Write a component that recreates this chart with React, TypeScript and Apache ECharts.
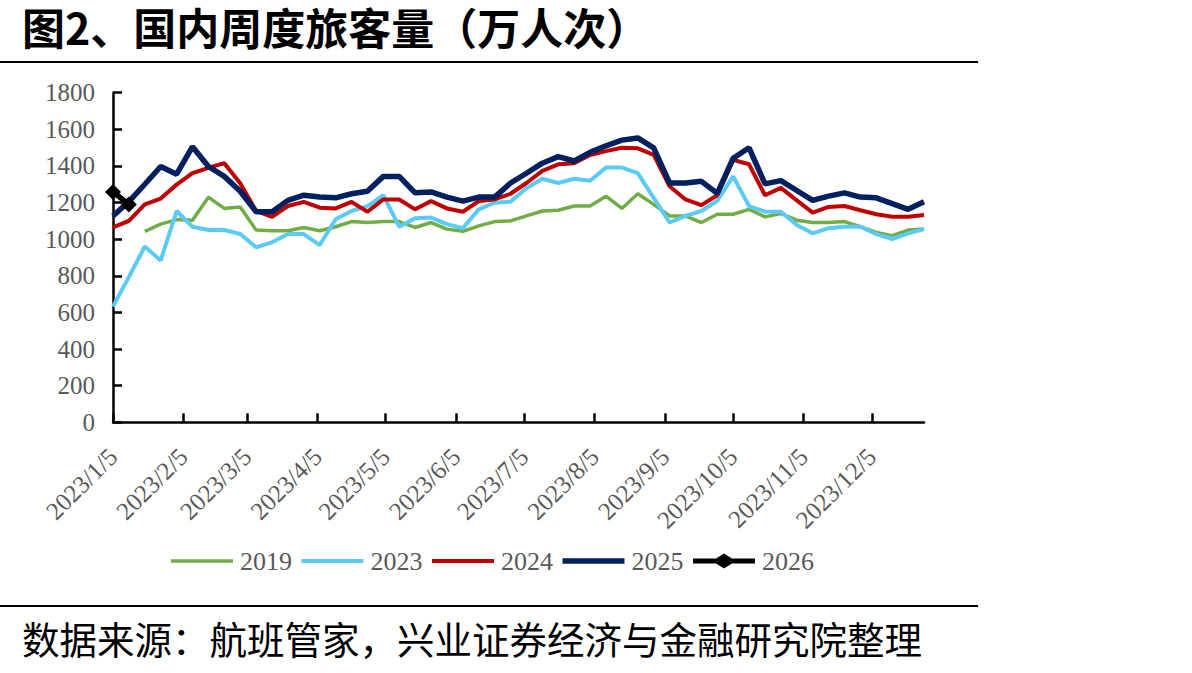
import React, { useEffect, useRef } from "react";
import * as echarts from "echarts";

// Weekly dates (x positions) — first week 2023/1/5, one point per week
const startDate = "2023/1/5";
const weekCount = 52;
// Month tick labels on the date axis
const tickLabels = [
  "2023/1/5", "2023/2/5", "2023/3/5", "2023/4/5", "2023/5/5", "2023/6/5",
  "2023/7/5", "2023/8/5", "2023/9/5", "2023/10/5", "2023/11/5", "2023/12/5",
];
const axisEnd = "2023/12/28";

const s2019: (number | null)[] = [
  null, null, 1043, 1082, 1107, 1104, 1229, 1168, 1176, 1050, 1046, 1046, 1064,
  1046, 1068, 1096, 1091, 1096, 1096, 1064, 1091, 1055, 1043, 1073, 1096, 1100,
  1127, 1154, 1158, 1181, 1181, 1235, 1168, 1248, 1190, 1127, 1127, 1091, 1136,
  1136, 1163, 1122, 1140, 1104, 1091, 1091, 1096, 1068, 1037, 1019, 1050, 1055,
];
const s2023: (number | null)[] = [
  632, 794, 960, 884, 1154, 1068, 1050, 1050, 1028, 956, 983, 1028, 1028,
  968, 1109, 1154, 1181, 1240, 1068, 1114, 1118, 1082, 1060, 1163, 1199, 1204,
  1278, 1330, 1307, 1330, 1319, 1391, 1391, 1361, 1226, 1091, 1127, 1154, 1210,
  1343, 1181, 1150, 1150, 1078, 1032, 1060, 1068, 1068, 1028, 1001, 1032, 1055,
];
const s2024: (number | null)[] = [
  1064, 1100, 1190, 1222, 1298, 1361, 1390, 1415, 1305, 1154, 1122, 1181, 1204,
  1172, 1168, 1204, 1150, 1217, 1217, 1163, 1208, 1168, 1150, 1208, 1217, 1248,
  1307, 1373, 1409, 1415, 1460, 1481, 1499, 1496, 1460, 1289, 1217, 1186, 1240,
  1433, 1409, 1240, 1280, 1212, 1145, 1176, 1181, 1158, 1136, 1122, 1122, 1132,
];
const s2025: (number | null)[] = [
  1127, 1205, 1300, 1397, 1355, 1505, 1397, 1343, 1262, 1150, 1150, 1212, 1240,
  1230, 1226, 1248, 1262, 1343, 1343, 1253, 1258, 1230, 1208, 1230, 1230, 1307,
  1360, 1415, 1451, 1427, 1474, 1510, 1541, 1553, 1499, 1307, 1307, 1316, 1250,
  1442, 1499, 1302, 1320, 1266, 1212, 1235, 1253, 1230, 1226, 1194, 1163, 1204,
];
const s2026: (number | null)[] = [1258, 1190];

const seriesNames = ["2019", "2023", "2024", "2025", "2026"];
const seriesColors = ["#70AD47", "#5BCBF5", "#C00000", "#002060", "#000000"];
const seriesWidths = [3.5, 4, 4, 5.5, 5.5];
const legendIcons = [
  "path://M0,0H62V3.5H0Z",
  "path://M0,0H62V4H0Z",
  "path://M0,0H62V4H0Z",
  "path://M0,0H62V5.5H0Z",
  "path://M0,5H23L31,0L39,5H62V10H39L31,15L23,10H0Z",
];

const titleText = "图2、国内周度旅客量（万人次）";
const sourceText = "数据来源：航班管家，兴业证券经济与金融研究院整理";

const DAY = 86400000;
function toDay(s: string): number {
  const [y, m, d] = s.split("/").map(Number);
  const [y0, m0, d0] = startDate.split("/").map(Number);
  return Math.round((Date.UTC(y, m - 1, d) - Date.UTC(y0, m0 - 1, d0)) / DAY);
}
function dayToLabel(v: number): string {
  const [y0, m0, d0] = startDate.split("/").map(Number);
  const dt = new Date(Date.UTC(y0, m0 - 1, d0) + v * DAY);
  return `${dt.getUTCFullYear()}/${dt.getUTCMonth() + 1}/${dt.getUTCDate()}`;
}

const weekDays = Array.from({ length: weekCount }, (_, i) => i * 7);
const tickDays = tickLabels.map(toDay);

export default function App() {
  const ref = useRef<HTMLDivElement>(null);
  useEffect(() => {
    document.body.style.margin = "0";
    const chart = echarts.init(ref.current!, null, { renderer: "svg" });
    const serif = "'Liberation Serif', 'Times New Roman', serif";
    const cjk = "'Noto Sans CJK SC', sans-serif";
    const all = [s2019, s2023, s2024, s2025, s2026];
    chart.setOption({
      animation: false,
      backgroundColor: "#ffffff",
      grid: { left: 113, right: 268, top: 92.7, bottom: 250.7, containLabel: false },
      legend: {
        left: 166,
        top: 543,
        itemWidth: 62,
        itemHeight: 15,
        itemGap: 9.5,
        symbolKeepAspect: true,
        data: seriesNames.map((name, k) => ({ name, icon: legendIcons[k] })),
        textStyle: { fontFamily: serif, fontSize: 26, color: "#595959", padding: [0, 0, 0, 2] },
      },
      xAxis: {
        type: "value",
        min: 0,
        max: toDay(axisEnd),
        axisLine: { show: true, lineStyle: { color: "#000", width: 2.5 } },
        axisTick: {
          show: true,
          inside: true,
          length: 9,
          customValues: tickDays,
          lineStyle: { color: "#000", width: 2.5 },
        },
        axisLabel: {
          customValues: tickDays,
          formatter: (v: number) => dayToLabel(v),
          rotate: 45,
          margin: 30,
          color: "#595959",
          fontFamily: serif,
          fontSize: 25,
        },
        splitLine: { show: false },
      },
      yAxis: {
        type: "value",
        min: 0,
        max: 1800,
        interval: 200,
        axisLine: { show: true, lineStyle: { color: "#000", width: 2.5 } },
        axisTick: { show: true, inside: true, length: 9, lineStyle: { color: "#000", width: 2.5 } },
        axisLabel: {
          margin: 18,
          color: "#595959",
          fontFamily: serif,
          fontSize: 25,
          formatter: (v: number) => String(v),
        },
        splitLine: { show: false },
      },
      series: seriesNames.map((name, k) => ({
        name,
        type: "line",
        data: all[k].map((v, i) => [weekDays[i], v]),
        symbol: k === 4 ? "diamond" : "none",
        symbolSize: 16,
        showSymbol: k === 4,
        itemStyle: { color: seriesColors[k] },
        lineStyle: { color: seriesColors[k], width: seriesWidths[k] },
        z: k === 4 ? 10 : 2 + k,
      })),
      graphic: [
        {
          type: "text",
          left: 22,
          top: 4,
          style: { text: titleText, fontFamily: cjk, fontWeight: "bold", fontSize: 43, fill: "#000" },
        },
        {
          type: "line",
          shape: { x1: 0, y1: 62, x2: 978, y2: 62 },
          style: { stroke: "#000", lineWidth: 2 },
        },
        {
          type: "line",
          shape: { x1: 0, y1: 606, x2: 978, y2: 606 },
          style: { stroke: "#000", lineWidth: 2 },
        },
        {
          type: "text",
          left: 22,
          top: 619,
          style: { text: sourceText, fontFamily: cjk, fontSize: 37.5, fill: "#000" },
        },
      ],
    });
    return () => chart.dispose();
  }, []);
  return <div ref={ref} style={{ width: 1192, height: 673 }} />;
}
